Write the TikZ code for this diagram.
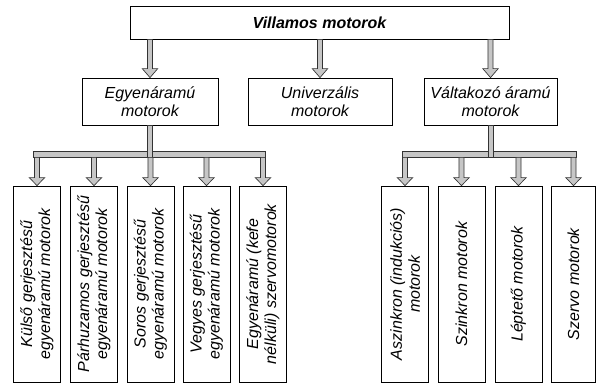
\documentclass[tikz,border=0pt]{standalone}
\usepackage{fontspec}
\setmainfont{Liberation Sans}
\usetikzlibrary{calc}
\newcommand\blkarrow[3]{%
  \filldraw[arr] let \p1=(#1), \p2=(#2) in
    (\x2-1.9pt,\y1) -- (\x2-1.9pt,\y2+#3) -- (\x2-5.8pt,\y2+#3) -- (\x2,\y2)
    -- (\x2+5.8pt,\y2+#3) -- (\x2+1.9pt,\y2+#3) -- (\x2+1.9pt,\y1) -- cycle;}
\newcommand\blkstem[2]{%
  \filldraw[arr] let \p1=(#1), \p2=(#2) in
    (\x1-1.9pt,\y1) rectangle (\x1+1.9pt,\y2);}
\begin{document}
\begin{tikzpicture}[x=0.75pt,y=-0.75pt,
  box/.style={draw=black,line width=0.6pt,fill=white,inner sep=0pt,align=center,
    font=\itshape\fontsize{12}{13.5}\selectfont},
  midbox/.style={box,minimum height=35.25pt},
  lowbox/.style={box,rotate=90,minimum width=147pt,minimum height=35.25pt},
  arr/.style={fill=gray!45,draw=black!80,line width=0.5pt,line join=miter},
]
\useasboundingbox (0,0) rectangle (596,383);
% boxes
\node[box,minimum width=284.25pt,minimum height=24.75pt,
  font=\bfseries\itshape\fontsize{12}{13.5}\selectfont] (top) at (319.5,22.5) {Villamos motorok};
\node[midbox,minimum width=102pt] (E) at (150,101.5) {Egyenáramú\\motorok};
\node[midbox,minimum width=108pt] (U) at (320,101.5) {Univerzális\\motorok};
\node[midbox,minimum width=99.75pt] (V) at (490.5,101.5) {Váltakozó áramú\\motorok};
\node[lowbox] (b1) at (37,284) {Külső gerjesztésű\\egyenáramú motorok};
\node[lowbox] (b2) at (94,284) {Párhuzamos gerjesztésű\\egyenáramú motorok};
\node[lowbox] (b3) at (150.5,284) {Soros gerjesztésű\\egyenáramú motorok};
\node[lowbox] (b4) at (206.5,284) {Vegyes gerjesztésű\\egyenáramú motorok};
\node[lowbox] (b5) at (263,284) {Egyenáramú (kefe\\nélküli) szervomotorok};
\node[lowbox] (r1) at (405,284) {Aszinkron (indukciós)\\motorok};
\node[lowbox] (r2) at (461.5,284) {Szinkron motorok};
\node[lowbox] (r3) at (518.5,284) {Léptető motorok};
\node[lowbox,minimum height=33.4pt] (r4) at (573.5,284) {Szervo motorok};
% top arrows
\blkarrow{top.south -| E.north}{E.north}{6.75pt}
\blkarrow{top.south -| U.north}{U.north}{6.75pt}
\blkarrow{top.south -| V.north}{V.north}{6.75pt}
% bars
\node[arr,inner sep=0pt,minimum width=174pt,minimum height=4.5pt] (barL) at (149,154) {};
\node[arr,inner sep=0pt,minimum width=130.5pt,minimum height=4.5pt] (barR) at (489,154) {};
\blkstem{E.south}{barL.south}
\blkstem{V.south}{barR.south}
% lower arrows
\foreach \b in {b1,b2,b3,b4,b5}{\blkarrow{barL.south -| \b.east}{\b.east}{6pt}}
\foreach \b in {r1,r2,r3,r4}{\blkarrow{barR.south -| \b.east}{\b.east}{6pt}}
\end{tikzpicture}
\end{document}
